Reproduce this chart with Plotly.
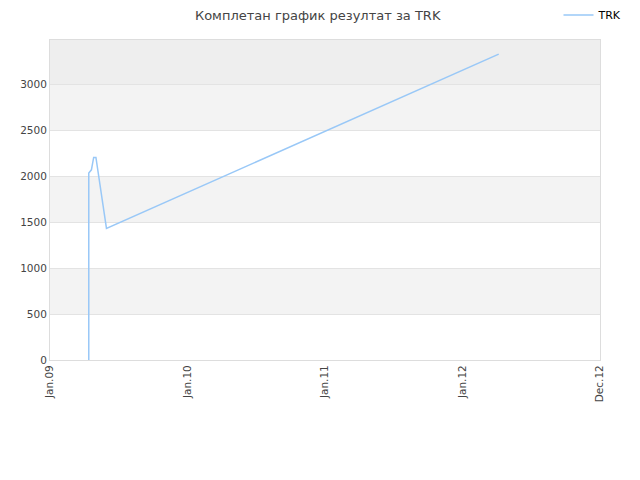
import plotly.graph_objects as go

dates = ["2009-04-14", "2009-04-14", "2009-04-21", "2009-04-24", "2009-04-27",
         "2009-05-03", "2009-05-31", "2012-04-07"]
values = [0, 2033, 2068, 2155, 2203, 2203, 1431, 3326]

tick_vals = ["2009-01-01", "2010-01-01", "2011-01-01", "2012-01-01", "2013-01-01"]
tick_text = ["Jan.09", "Jan.10", "Jan.11", "Jan.12", "Dec.12"]

y_max = 3480
bands = [(500, 1000, "#f3f3f3"), (1500, 2000, "#f3f3f3"),
         (2500, 3000, "#f3f3f3"), (3000, y_max, "#eeeeee")]

fig = go.Figure()
fig.add_trace(go.Scatter(x=dates, y=values, mode="lines", name="TRK",
                         line=dict(color="#99c8f7", width=1.5)))

for y0, y1, c in bands:
    fig.add_shape(type="rect", xref="paper", yref="y", x0=0, x1=1, y0=y0, y1=y1,
                  fillcolor=c, line_width=0, layer="below")

# page body has an 8px margin, so size/margins are shrunk to compensate
fig.update_layout(
    width=632, height=472,
    margin=dict(l=42, r=40, t=32, b=120, autoexpand=False),
    paper_bgcolor="white", plot_bgcolor="white",
    font=dict(family="DejaVu Sans", size=10.5, color="#444"),
    title=dict(text="Комплетан график резултат за TRK", x=0.49, y=0.985,
               xanchor="center", yanchor="middle", font=dict(size=13, color="#444")),
    showlegend=True,
    legend=dict(x=1.05, y=1.078, xanchor="right", yanchor="middle",
                font=dict(size=11, color="black"), bgcolor="rgba(0,0,0,0)"),
    xaxis=dict(type="date", range=["2009-01-01", "2013-01-01"],
               tickvals=tick_vals, ticktext=tick_text, tickangle=-90,
               showgrid=False, showline=True, linecolor="#dddddd", mirror=True,
               zeroline=False, ticks="", automargin=False),
    yaxis=dict(range=[0, y_max], tickvals=[0, 500, 1000, 1500, 2000, 2500, 3000],
               showgrid=True, gridcolor="#e3e3e3", showline=True,
               linecolor="#dddddd", mirror=True, zeroline=False, ticks="",
               automargin=False),
)

fig.write_html("out.html")
